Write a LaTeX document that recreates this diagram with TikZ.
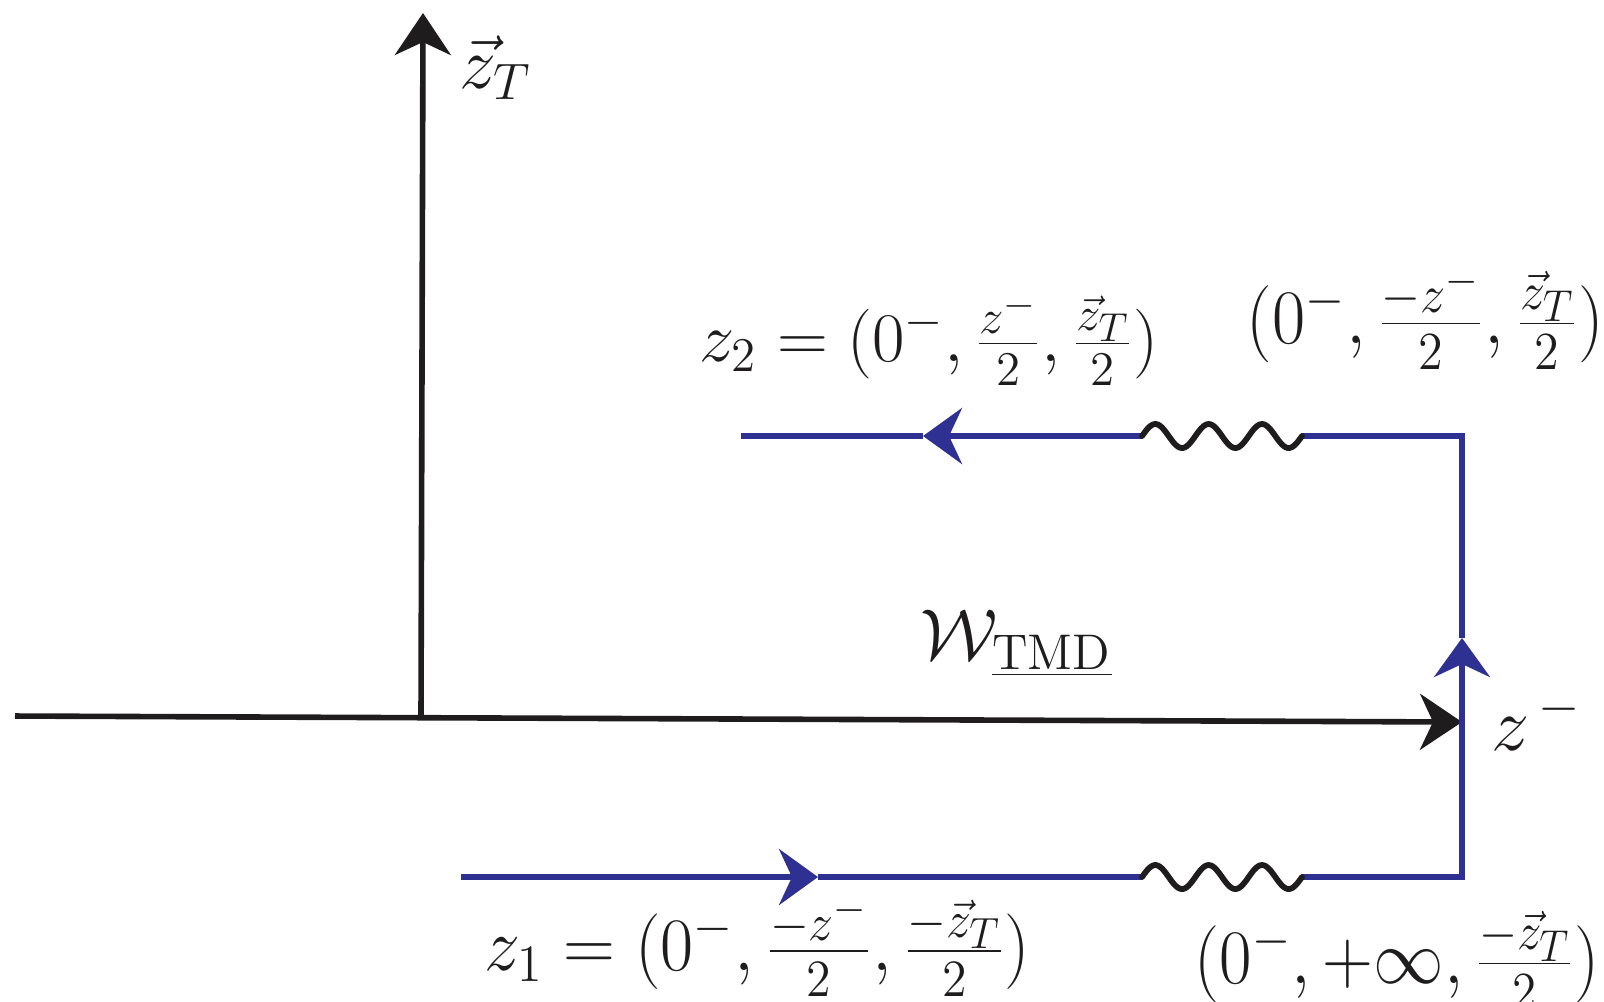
\documentclass[tikz,border=0pt]{standalone}
\usetikzlibrary{arrows.meta}
\definecolor{wblue}{RGB}{46,49,146}
\definecolor{ink}{RGB}{30,28,28}
\begin{document}
\begin{tikzpicture}[x=0.25pt,y=-0.25pt,
  axis/.style={ink,line width=1.4pt},
  wline/.style={wblue,line width=1.4pt,line join=miter},
  wavy/.style={ink,line width=1.45pt,line cap=round},
  tipk/.style={-{Stealth[length=10.5pt,width=14pt,inset=3.25pt]}},
  tipb/.style={-{Stealth[length=9.75pt,width=14pt,inset=3.25pt]}},
  lab/.style={inner sep=0pt,text=ink,anchor=base west,font=\fontsize{20.74}{25}\selectfont}]
\useasboundingbox (0,0) rectangle (1604,1001);
% axes
\coordinate (O) at (421,716);
\coordinate (ztop) at (423,13);
\coordinate (xl) at (15,716);
\coordinate (xr) at (1462,722);
\draw[axis,tipk] (O) -- (ztop);
\draw[axis,tipk] (xl) -- (xr);
% Wilson line path
\coordinate (b0) at (461,877);
\coordinate (bA) at (818,877);
\coordinate (bw1) at (1142,877);
\coordinate (bw2) at (1302,877);
\coordinate (bc) at (1462,877);
\coordinate (vA) at (1462,638);
\coordinate (tc) at (1462,436);
\coordinate (tw2) at (1302,436);
\coordinate (tw1) at (1142,436);
\coordinate (tA) at (923,436);
\coordinate (t0) at (741,436);
\draw[wline,tipb] (b0) -- (bA);
\draw[wline] (bA) -- (bw1);
\draw[wline,tipb] (bw2) -- (bc) -- (vA);
\draw[wline] (vA) -- (tc) -- (tw2);
\draw[wline,tipb] (tw1) -- (tA);
\draw[wline] (tA) -- (t0);
\draw[wavy] plot[domain=0:160,samples=90] ({1142+\x},{877-12*sin(\x*6.75)});
\draw[wavy] plot[domain=0:160,samples=90] ({1142+\x},{436-12*sin(\x*6.75)});
% labels
\node[lab,scale=0.89] (lzT) at (459,88) {$\vec z_T$};
\node[lab,xscale=0.85,yscale=0.84] (lz2) at (699,361) {$z_2=(0^-,\frac{z^-}{2},\frac{\vec z_T}{2})$};
\node[lab,xscale=0.87,yscale=0.93] (ltr) at (1246,343) {$(0^-,\frac{-z^-}{2},\frac{\vec z_T}{2})$};
\node[lab,scale=0.87] (lW) at (920,659) {$\mathcal{W}_{\underline{\mathrm{TMD}}}$};
\node[lab,scale=0.92] (lzm) at (1491,750) {$z^{\,-}$};
\node[lab,xscale=0.867,yscale=0.91] (lz1) at (484,970) {$z_1=(0^-,\frac{-z^-}{2},\frac{-\vec z_T}{2})$};
\node[lab,xscale=0.85,yscale=0.93] (lbr) at (1194,983) {$(0^-,+\infty,\frac{-\vec z_T}{2})$};
\end{tikzpicture}
\end{document}
